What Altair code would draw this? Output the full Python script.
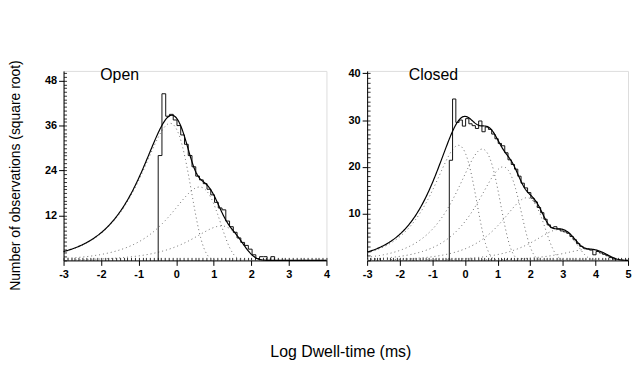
import altair as alt
import numpy as np
import pandas as pd

FONT = "Liberation Sans"

# ---------------- data ----------------
# Histogram bins (log10 dwell-time, ms); heights are sqrt(counts)
BIN_START = -0.48
BIN_WIDTH = 0.1

OPEN_HIST = [28, 44.5, 38.5, 39, 37.5, 36, 33.5, 31, 28, 25,
             22.5, 21.5, 20.5, 19, 17.5, 15.5, 14, 13.5, 10.5, 9,
             7.5, 6, 4.8, 4, 3, 1.5, 0.5, 1, 1, 0, 1]

CLOSED_HIST = [21.4, 34.5, 29.5, 30, 28.7, 30.3, 29.2, 28.8, 28.2, 29.8,
               27.5, 28.5, 28, 27, 26, 25, 24.5, 23, 21.5, 20.5,
               19.5, 18, 16.5, 15.5, 14.5, 13.3, 12.5, 11.3, 10.2, 8.8,
               7.6, 7.0, 7.2, 6.7, 6.3, 6.1, 5.8, 5.1, 4.4, 3.6,
               3.0, 2.6, 2.4, 2.2, 1.2, 1.9, 1.6, 1.3, 1.0, 0.6, 0.3]

# Fitted exponential components: position of each peak (log10 tau) and peak height (sqrt scale)
OPEN_MODE = [-0.16, 0.62, 1.2]
OPEN_PEAK = [36.6, 19.6, 9.2]

CLOSED_MODE = [-0.2, 0.53, 1.17, 1.9, 2.88, 3.8]
CLOSED_PEAK = [24.6, 23.8, 20.0, 13.4, 6.6, 2.4]

OPEN_XTICKS = [-3, -2, -1, 0, 1, 2, 3, 4]
CLOSED_XTICKS = [-3, -2, -1, 0, 1, 2, 3, 4, 5]
OPEN_YTICKS = [12, 24, 36, 48]
CLOSED_YTICKS = [10, 20, 30, 40]

H = 191


def hist_frame(hist):
    n = len(hist)
    xs = [BIN_START] + [BIN_START + i * BIN_WIDTH for i in range(n)] + [BIN_START + n * BIN_WIDTH]
    ys = [0] + list(hist) + [0]
    return pd.DataFrame({"x": xs, "y": ys, "o": list(range(len(xs)))})


def curve_frames(modes, peaks, xmax):
    xs = np.linspace(-3, xmax, 400)
    comps = []
    total_sq = np.zeros_like(xs)
    for k, (m, p) in enumerate(zip(modes, peaks)):
        u = 10.0 ** (xs - m)
        sq = p * p * u * np.exp(1 - u)
        total_sq += sq
        comps.append(pd.DataFrame({"x": xs, "y": np.sqrt(sq), "c": f"c{k}"}))
    comp_df = pd.concat(comps, ignore_index=True)
    tot_df = pd.DataFrame({"x": xs, "y": np.sqrt(total_sq)})
    return comp_df, tot_df


def panel(title, dx, dy, hist, modes, peaks, xmax, ymax, width, xticks, yticks, first):
    xs = alt.Scale(domain=[-3, xmax], nice=False, zero=False)
    ys = alt.Scale(domain=[0, ymax], nice=False, zero=True)

    x_main = dict(values=xticks, labelExpr="toString(datum.value)", tickSize=5, labelPadding=3,
                  labelFont=FONT, labelFontSize=11, labelFontWeight="bold", labelColor="black",
                  domainColor="black", tickColor="black", grid=False, labelOverlap=False,
                  labelFlush=False)
    y_main = dict(values=yticks, tickSize=5, labelPadding=2,
                  labelFont=FONT, labelFontSize=11, labelFontWeight="bold", labelColor="black",
                  domainColor="black", tickColor="black", grid=False, labelOverlap=False)
    if first:
        x_main.update(title="Log Dwell-time (ms)", titleFont=FONT, titleFontSize=16,
                      titleFontWeight="normal", titleColor="black", titleX=279, titleY=92,
                      titleBaseline="middle", titleAlign="center")
        y_main.update(title="Number of observations (square root)", titleFont=FONT,
                      titleFontSize=14, titleFontWeight="normal", titleColor="black",
                      titleX=-48, titleY=105, titleBaseline="middle", titleAlign="center")
    else:
        x_main.update(title=None)
        y_main.update(title=None)

    x_minor = alt.Axis(orient="top", offset=-H,
                       values=[round(-3 + 0.1 * i, 2) for i in range(int((xmax + 3) * 10) + 1)],
                       tickSize=3, labels=False, domain=False, grid=False, title=None,
                       tickColor="black", tickWidth=0.8)
    y_minor = alt.Axis(orient="right", offset=-width, values=list(range(0, int(ymax) + 1)),
                       tickSize=3, labels=False, domain=False, grid=False, title=None,
                       tickColor="black", tickWidth=0.8)

    comp_df, tot_df = curve_frames(modes, peaks, xmax)

    comps = alt.Chart(comp_df).mark_line(color="#666", strokeWidth=1, strokeDash=[1, 3]).encode(
        x=alt.X("x:Q", scale=xs, axis=None),
        y=alt.Y("y:Q", scale=ys, axis=None),
        detail="c:N",
    )
    hist_layer = alt.Chart(hist_frame(hist)).mark_line(interpolate="step-after", color="#111",
                                                       strokeWidth=1).encode(
        x=alt.X("x:Q", scale=xs, axis=alt.Axis(**x_main)),
        y=alt.Y("y:Q", scale=ys, axis=alt.Axis(**y_main)),
        order="o:Q",
    )
    total = alt.Chart(tot_df).mark_line(color="black", strokeWidth=1.2).encode(
        x=alt.X("x:Q", scale=xs, axis=x_minor),
        y=alt.Y("y:Q", scale=ys, axis=y_minor),
    )
    return alt.layer(comps, hist_layer, total).resolve_axis(x="independent", y="independent").properties(
        width=width, height=H,
        title=alt.TitleParams(title, anchor="start", frame="group", fontSize=16, fontWeight="normal",
                              font=FONT, color="black", offset=0, dx=dx, dy=dy),
    )


left = panel("Open", 37, 23, OPEN_HIST, OPEN_MODE, OPEN_PEAK, 4, 50.6, 265,
             OPEN_XTICKS, OPEN_YTICKS, True)
right = panel("Closed", 42, 16, CLOSED_HIST, CLOSED_MODE, CLOSED_PEAK, 5, 40.5, 263,
              CLOSED_XTICKS, CLOSED_YTICKS, False)

chart = alt.hconcat(left, right, spacing=41, bounds="flush",
                    padding={"left": 0, "top": 50, "right": 0, "bottom": 0}).configure_view(
    strokeWidth=0).configure(background="white")

chart.save("out.html", embed_options={"renderer": "svg", "actions": False})
